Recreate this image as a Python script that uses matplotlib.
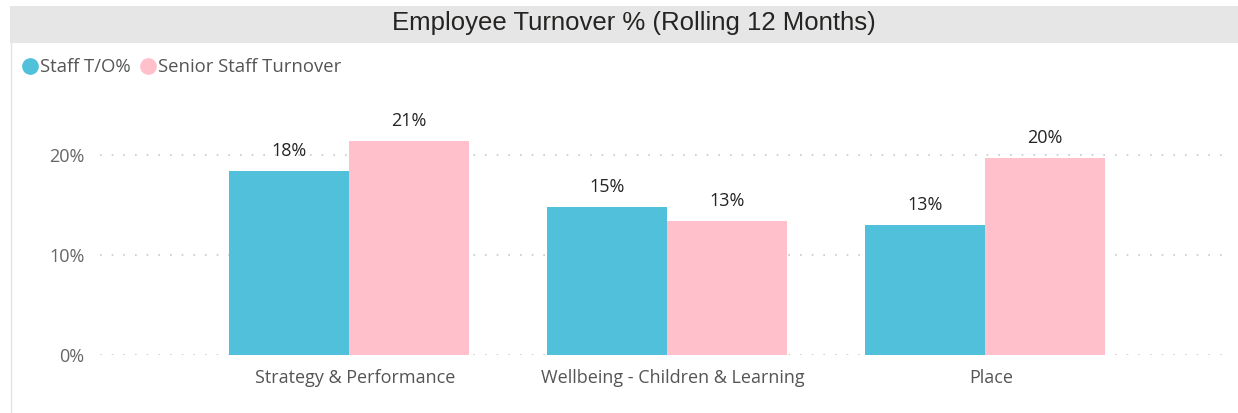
import matplotlib
matplotlib.use("Agg")
import matplotlib.pyplot as plt
from matplotlib.patches import Rectangle
from matplotlib.lines import Line2D
import numpy as np

categories = ["Strategy & Performance", "Wellbeing - Children & Learning", "Place"]
staff_to = [18.4, 14.8, 13.0]
senior_to = [21.4, 13.4, 19.7]
staff_labels = ["18%", "15%", "13%"]
senior_labels = ["21%", "13%", "20%"]
yticks = [0, 10, 20]
ytick_labels = ["0%", "10%", "20%"]
series_names = ["Staff T/O%", "Senior Staff Turnover"]
title = "Employee Turnover % (Rolling 12 Months)"

c_staff = "#50C0DB"
c_senior = "#FFC0CB"
W, H = 1238, 413

fig = plt.figure(figsize=(W / 100, H / 100), dpi=100)
fig.patch.set_facecolor("white")

# title bar
fig.patches.append(Rectangle((10 / W, 1 - 43 / H), 1 - 10 / W, 37 / H,
                             transform=fig.transFigure, facecolor="#E6E6E6",
                             edgecolor="none", zorder=0))
fig.lines.append(Line2D([10.5 / W, 10.5 / W], [0, 1 - 43 / H], transform=fig.transFigure,
                        color="#E3E3E3", lw=1))
fig.text(634 / W, 1 - 23 / H, title, ha="center", va="center",
         fontsize=18.5, family="Liberation Sans", color="#252423")

ax = fig.add_axes([100 / W, 58 / H, 1130 / W, 255 / H])
x = np.arange(len(categories))
bw = 0.377
ax.bar(x - bw / 2, staff_to, width=bw, color=c_staff, zorder=2)
ax.bar(x + bw / 2, senior_to, width=bw, color=c_senior, zorder=2)
for xi, v, lab in zip(x, staff_to, staff_labels):
    ax.text(xi - bw / 2, v + 1.1, lab, ha="center", va="bottom", fontsize=13,
            family="Open Sans", color="#252423")
for xi, v, lab in zip(x, senior_to, senior_labels):
    ax.text(xi + bw / 2, v + 1.1, lab, ha="center", va="bottom", fontsize=13,
            family="Open Sans", color="#252423")

ax.set_xlim(-0.783, 2.77)
ax.set_ylim(0, 25.5)
ax.set_yticks(yticks)
ax.set_yticklabels(ytick_labels, family="Open Sans", fontsize=13, color="#666666")
ax.set_xticks(x + 0.019)
ax.set_xticklabels(categories, family="Open Sans", fontsize=13, color="#555555")
ax.tick_params(length=0)
ax.tick_params(axis="y", pad=11)
ax.tick_params(axis="x", pad=10)
for s in ax.spines.values():
    s.set_visible(False)
ax.yaxis.grid(True, linestyle=(0, (1, 6)), color="#C8C8C8", lw=1.2)
ax.set_axisbelow(True)

# legend
handles = [Line2D([], [], marker="o", ls="none", markersize=11, color=c_staff),
           Line2D([], [], marker="o", ls="none", markersize=11, color=c_senior)]
fig.legend(handles, series_names, loc="center left", bbox_to_anchor=(20 / W, 1 - 67 / H),
           frameon=False, ncol=2, handletextpad=0.0, columnspacing=0.35,
           handlelength=1.1, prop={"family": "Open Sans", "size": 13.3},
           labelcolor="#555555", borderaxespad=0, borderpad=0)

fig.savefig("out.png", dpi=100)
